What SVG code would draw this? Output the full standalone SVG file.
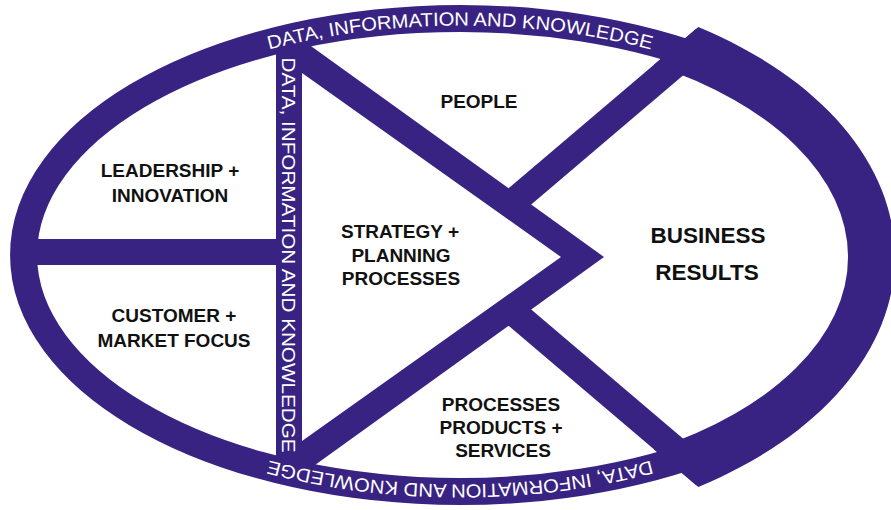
<svg xmlns="http://www.w3.org/2000/svg" width="891" height="510" viewBox="0 0 891 510">
  <style>
    .band { fill: #392382; }
    .ring { fill: none; stroke: #392382; stroke-width: 27; }
    .label { font-family: "Liberation Sans", Arial, sans-serif; font-weight: bold; font-size: 19px; fill: #111; text-anchor: middle; }
    .big { font-size: 22.5px; }
    .flow { font-family: "Liberation Sans", Arial, sans-serif; font-size: 19px; fill: #fff; }
  </style>
  <defs>
    <!-- baselines for the ring captions, set just inside the ring's centre line -->
    <path id="arcTop" d="M 30.5,255 A 429.5,229.5 0 0 1 889.5,255"/>
    <path id="arcBottom" d="M 889.5,255 A 429.5,229.5 0 0 1 30.5,255"/>
  </defs>
  <rect width="891" height="510" fill="#fff"/>

  <!-- purple framework: outer ring, right crescent, dividers and triangle -->
  <g id="connectors">
    <path class="ring" d="M 720,65 A 436.5,236.5 0 1 0 720,445"/>
    <path class="band" d="M 698.3,27 A 435,275 0 0 1 698.3,487 L 653.9,449.3 A 388,222 0 0 0 653.9,64.7 Z"/>
    <rect class="band" x="28" y="239" width="262" height="26"/>
    <rect class="band" x="276" y="40" width="26" height="432"/>
    <path class="band" fill-rule="evenodd" d="M 290,30.9 L 604,257 L 290,483.1 Z M 302,73 L 302,441 L 561,257 Z"/>
    <path class="band" d="M 500,195.5 L 696,29 L 700,61 L 523,211.45 Z"/>
    <path class="band" d="M 500,318.5 L 696,485 L 700,453 L 523,302.55 Z"/>
  </g>

  <!-- knowledge captions on the ring and the divider -->
  <g id="knowledge">
    <text class="flow"><textPath href="#arcTop" startOffset="50%" text-anchor="middle" textLength="386" lengthAdjust="spacingAndGlyphs">DATA, INFORMATION AND KNOWLEDGE</textPath></text>
    <text class="flow"><textPath href="#arcBottom" startOffset="50%" text-anchor="middle" textLength="386" lengthAdjust="spacingAndGlyphs">DATA, INFORMATION AND KNOWLEDGE</textPath></text>
    <text class="flow" transform="translate(289,255) rotate(90)" x="0" y="7" text-anchor="middle" textLength="395" lengthAdjust="spacingAndGlyphs">DATA, INFORMATION AND KNOWLEDGE</text>
  </g>

  <g id="leadership">
    <text class="label" x="170" y="177">LEADERSHIP +</text>
    <text class="label" x="170" y="202">INNOVATION</text>
  </g>
  <g id="customer">
    <text class="label" x="174" y="322">CUSTOMER +</text>
    <text class="label" x="174" y="347">MARKET FOCUS</text>
  </g>
  <g id="people">
    <text class="label" x="479" y="108">PEOPLE</text>
  </g>
  <g id="strategy">
    <text class="label" x="400" y="238">STRATEGY +</text>
    <text class="label" x="401" y="262">PLANNING</text>
    <text class="label" x="401" y="285">PROCESSES</text>
  </g>
  <g id="processes">
    <text class="label" x="501" y="411">PROCESSES</text>
    <text class="label" x="501" y="434">PRODUCTS +</text>
    <text class="label" x="503" y="457">SERVICES</text>
  </g>
  <g id="results">
    <text class="label big" x="708" y="243">BUSINESS</text>
    <text class="label big" x="707" y="280">RESULTS</text>
  </g>
</svg>
